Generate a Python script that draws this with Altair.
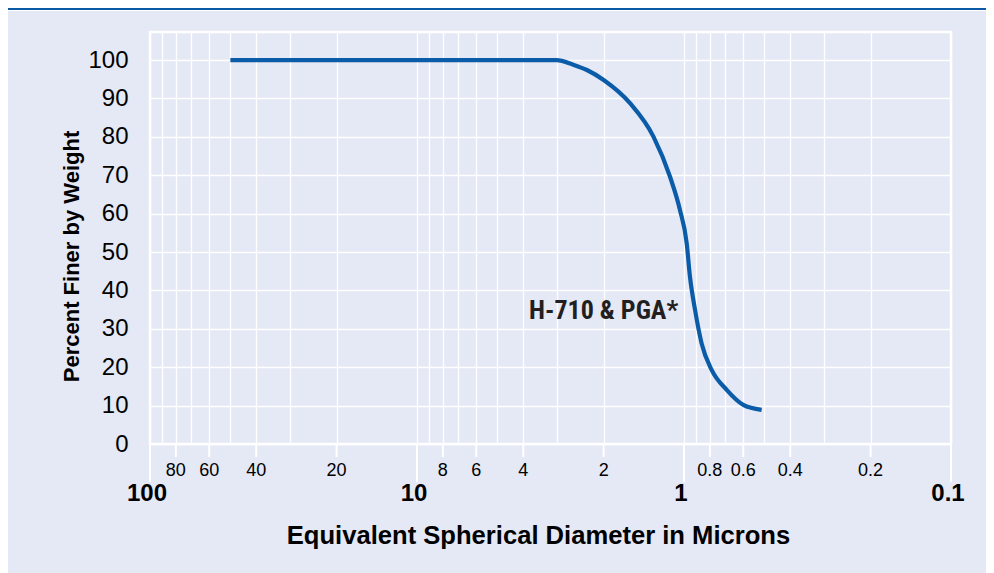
import altair as alt
import pandas as pd

# ---- data ----
diameter = [50, 3.0, 2.6, 2.31, 2.0, 1.59, 1.30, 1.128, 1.035, 0.977, 0.95, 0.909,
            0.859, 0.788, 0.692, 0.60, 0.512]
percent = [100, 100, 98.8, 97.4, 94.8, 88.7, 80.0, 69.6, 60.9, 52.3, 43.6, 34.9,
           26.2, 19.3, 14.1, 10.2, 8.9]

grid_values = [100, 90, 80, 70, 60, 50, 40, 30, 20, 10, 9, 8, 7, 6, 5, 4, 3, 2, 1,
               0.9, 0.8, 0.7, 0.6, 0.5, 0.4, 0.3, 0.2, 0.1]
minor_ticks = [80, 60, 40, 20, 8, 6, 4, 2, 0.8, 0.6, 0.4, 0.2]
minor_labels = ["80", "60", "40", "20", "8", "6", "4", "2", "0.8", "0.6", "0.4", "0.2"]
major_ticks = [100, 10, 1, 0.1]
major_labels = ["100", "10", "1", "0.1"]
y_ticks = [0, 10, 20, 30, 40, 50, 60, 70, 80, 90, 100]

series_label = ["H-710 & PGA*"]
series_label_x = [2.0]
series_label_y = [34.6]

x_title = "Equivalent Spherical Diameter in Microns"
y_title = "Percent Finer by Weight"

# ---- styling ----
BG = "#e5e8f5"
BLUE = "#0b5ca8"
FONT = "Liberation Sans, Arial, Helvetica, sans-serif"
COND = "Roboto Condensed, DejaVu Sans Condensed, Liberation Sans Narrow, Arial Narrow, Roboto, sans-serif"

W, H = 801, 412
PAD = {"left": 142, "top": 24, "right": 35, "bottom": 129}

xscale = alt.Scale(type="log", domain=[0.1, 100], reverse=True)
yscale = alt.Scale(domain=[0, 107.3], nice=False, zero=True)

x_axis = alt.Axis(
    values=grid_values, grid=True, gridColor="white", gridWidth=1.3,
    ticks=False, domain=False, labels=False,
    title=x_title, titleFont=FONT, titleFontSize=25.6, titleFontWeight="bold",
    titleColor="black", titleX=388, titleY=99, titleBaseline="alphabetic",
    titleAlign="center")
y_axis = alt.Axis(
    values=y_ticks, grid=True, gridColor="white", gridWidth=1.5,
    ticks=False, domain=False, labelFont=FONT, labelFontSize=24,
    labelColor="black", labelPadding=22,
    title=y_title, titleFont=FONT, titleFontSize=22, titleFontWeight="bold",
    titleColor="black", titleX=-72, titleY=224, titleAngle=270,
    titleBaseline="alphabetic", titleAlign="center")


def X():
    return alt.X("d:Q", scale=xscale, axis=x_axis)


def Y():
    return alt.Y("p:Q", scale=yscale, axis=y_axis)


curve_df = pd.DataFrame({"d": diameter, "p": percent})
minor_df = pd.DataFrame({"d": minor_ticks, "t": minor_labels})
major_df = pd.DataFrame({"d": major_ticks, "t": major_labels})
label_df = pd.DataFrame({"d": series_label_x, "p": series_label_y, "t": series_label})
dummy = alt.Data(values=[{"a": 1}])

line = alt.Chart(curve_df).mark_line(
    color=BLUE, strokeWidth=4.2, interpolate="monotone"
).encode(x=X(), y=Y())

major_tick_rules = alt.Chart(major_df).mark_rule(color="white", strokeWidth=2).encode(
    x=X(), y=alt.value(H), y2=alt.value(H + 38),
)
minor_tick_rules = alt.Chart(minor_df).mark_rule(color="white", strokeWidth=2).encode(
    x=X(), y=alt.value(H), y2=alt.value(H + 13),
)
minor_text = alt.Chart(minor_df).mark_text(
    font=FONT, fontSize=18, color="black", baseline="middle", align="center"
).encode(x=X(), y=alt.value(H + 27), text="t:N")
major_text = alt.Chart(major_df).mark_text(
    font=FONT, fontSize=24, fontWeight="bold", color="black",
    baseline="middle", align="center", dx=-3
).encode(x=X(), y=alt.value(H + 50), text="t:N")
series_text = alt.Chart(label_df).mark_text(
    font=COND, fontSize=26, fontWeight="bold", color="#231f20",
    baseline="middle", align="center"
).encode(x=X(), y=Y(), text="t:N")

white_strip = alt.Chart(dummy).mark_rect(color="white").encode(
    x=alt.value(-PAD["left"]), x2=alt.value(W + PAD["right"]),
    y=alt.value(-PAD["top"]), y2=alt.value(-PAD["top"] + 3),
)
blue_bar = alt.Chart(dummy).mark_rect(color="#0a5aa5").encode(
    x=alt.value(-PAD["left"]), x2=alt.value(W + PAD["right"]),
    y=alt.value(-PAD["top"]), y2=alt.value(-PAD["top"] + 2),
)

chart = alt.layer(
    white_strip, blue_bar, line, major_tick_rules, minor_tick_rules,
    minor_text, major_text, series_text
).properties(
    width=W, height=H,
    background=BG,
    padding=PAD,
    autosize=alt.AutoSizeParams(type="none"),
).configure_view(stroke="white", strokeWidth=2.5)

chart.save("out.html", embed_options={"renderer": "svg", "actions": False})
